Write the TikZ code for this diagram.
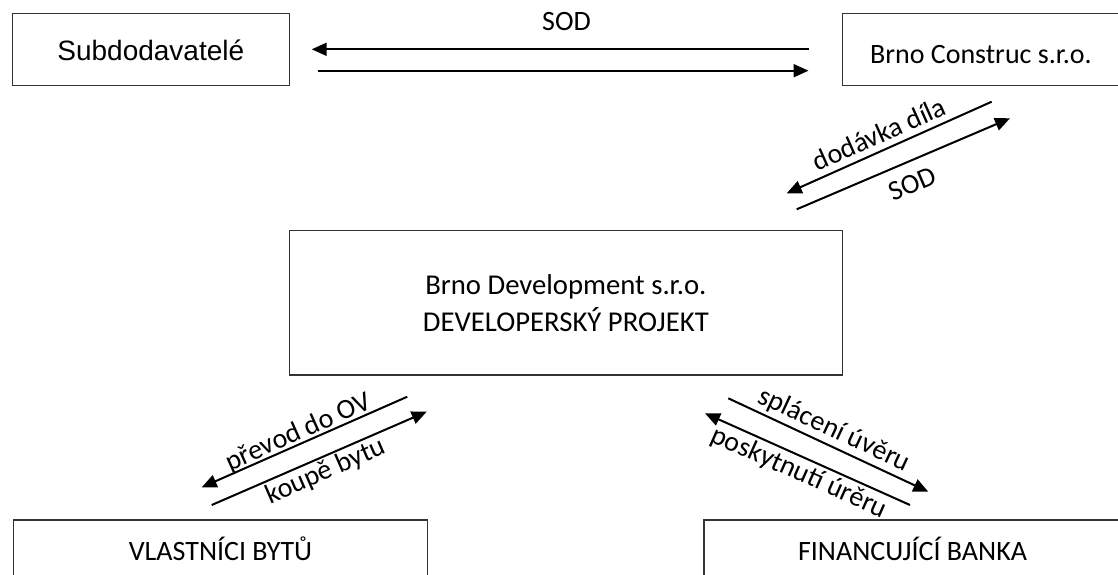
\documentclass[tikz,border=0pt]{standalone}
\usepackage{fontspec}
\setmainfont{Carlito}
\newfontfamily\arialfont{Liberation Sans}
\usetikzlibrary{arrows.meta}
\begin{document}
\begin{tikzpicture}[x=1pt,y=-1pt,
  box/.style={draw=black!80, line width=1.4pt, inner sep=0pt, font=\fontsize{28}{34}\selectfont},
  arr/.style={line width=2pt, -{Triangle[length=15pt,width=13pt]}},
  lbl/.style={font=\fontsize{28}{34}\selectfont, inner sep=0pt}]
\useasboundingbox (0,0) rectangle (1118,574);
\clip (0,0) rectangle (1118,574);
% boxes
\node[box, minimum width=277, minimum height=72.4, text height=21pt, text depth=0pt,
      font=\arialfont\fontsize{28}{34}\selectfont] (sub) at (150.8,49.5) {Subdodavatelé};
\node[box, minimum width=277.2, minimum height=72.4, text height=27pt, text depth=0pt] (bc) at (980.9,49.5) {Brno Construc s.r.o.};
\node[box, minimum width=553.3, minimum height=144.3, align=center,
      font=\fontsize{28.7}{36.6}\selectfont] (dev) at (565.9,302.9) {Brno Development s.r.o.\\DEVELOPERSKÝ PROJEKT};
\node[box, minimum width=414.4, minimum height=80, text height=18pt, text depth=18pt] (vl) at (220.5,560) {VLASTNÍCI BYTŮ};
\node[box, minimum width=417, minimum height=80, text height=18pt, text depth=18pt] (fb) at (912.5,560) {FINANCUJÍCÍ BANKA};
% connector end points
\coordinate (a1) at (808.5,49.3);  \coordinate (a2) at (311.7,49.3);
\coordinate (b1) at (317.5,70.7);  \coordinate (b2) at (808.5,70.7);
\coordinate (c1) at (991.7,101.7); \coordinate (c2) at (786.7,193.3);
\coordinate (d1) at (796.7,209.3); \coordinate (d2) at (1010,118.3);
\coordinate (e1) at (407.3,396.7); \coordinate (e2) at (201.7,487.3);
\coordinate (f1) at (211.7,505);   \coordinate (f2) at (426.7,411.7);
\coordinate (g1) at (728.3,398.3); \coordinate (g2) at (928.3,491.7);
\coordinate (h1) at (910,505);     \coordinate (h2) at (705,413.3);
% connectors
\draw[arr] (a1) -- (a2) node[lbl] (l1) at (566.5,22) {SOD};
\draw[arr] (b1) -- (b2);
\draw[arr] (c1) -- (c2) node[lbl, rotate=24] (l2) at (879,134) {dodávka díla};
\draw[arr] (d1) -- (d2) node[lbl, rotate=23] (l3) at (912.3,184) {SOD};
\draw[arr] (e1) -- (e2) node[lbl, rotate=24] (l4) at (298.3,432.5) {převod do OV};
\draw[arr] (f1) -- (f2) node[lbl, rotate=23.5] (l5) at (325.8,471.7) {koupě bytu};
\draw[arr] (g1) -- (g2) node[lbl, rotate=-25] (l6) at (834,430) {splácení úvěru};
\draw[arr] (h1) -- (h2) node[lbl, rotate=-24] (l7) at (799,473) {poskytnutí úrěru};
\end{tikzpicture}
\end{document}
